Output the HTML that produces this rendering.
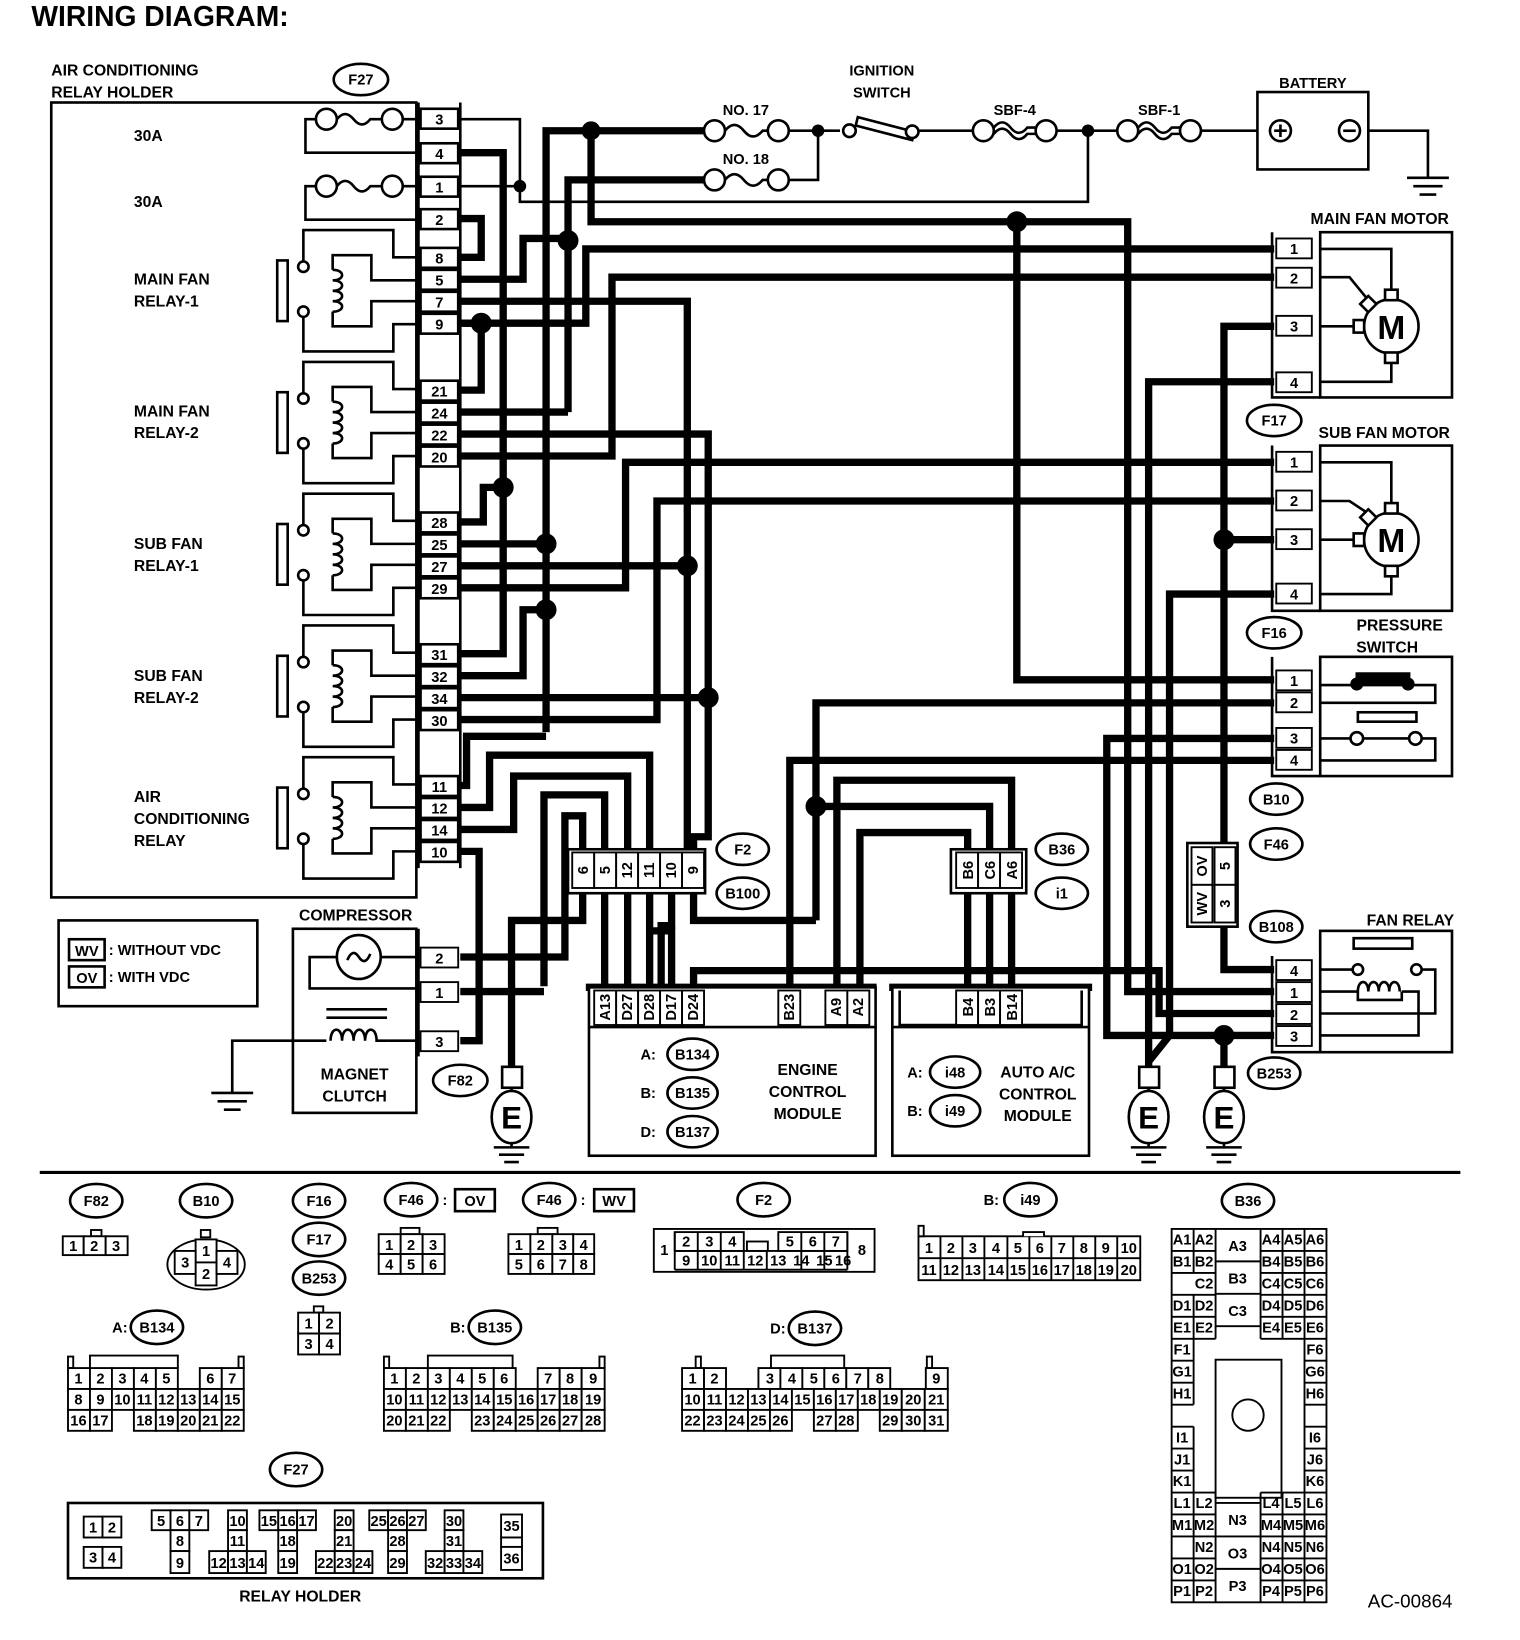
<!DOCTYPE html>
<html><head><meta charset="utf-8"><style>
html,body{margin:0;padding:0;background:#fff}
svg{display:block}
text{font-family:"Liberation Sans",sans-serif;font-weight:bold;fill:#000}
.t{fill:none;stroke:#000;stroke-width:2.5}
.w{fill:none;stroke:#000;stroke-width:7}
.b{fill:#fff;stroke:#000;stroke-width:2.5}
.c{fill:#fff;stroke:#000;stroke-width:1.8}
.l{font-size:15px}
.s{font-size:14px;font-weight:normal}
.n{font-size:14px}
</style></head><body>
<svg width="1520" height="1640" viewBox="0 0 1453 1568" preserveAspectRatio="none" xmlns="http://www.w3.org/2000/svg">
<text x="30" y="25" style="font-size:27px">WIRING DIAGRAM:</text>

<!-- ===== Relay holder ===== -->
<text x="49" y="72" class="l">AIR CONDITIONING</text>
<text x="49" y="93" class="l">RELAY HOLDER</text>
<ellipse cx="345" cy="76" rx="26" ry="15" class="b"/><text x="345" y="81" class="n" text-anchor="middle">F27</text>
<rect x="49" y="98" width="349" height="760" class="b"/>
<text x="128" y="135" class="l">30A</text>
<text x="128" y="198" class="l">30A</text>
<text x="128" y="272" class="l">MAIN FAN</text><text x="128" y="293" class="l">RELAY-1</text>
<text x="128" y="398" class="l">MAIN FAN</text><text x="128" y="419" class="l">RELAY-2</text>
<text x="128" y="525" class="l">SUB FAN</text><text x="128" y="546" class="l">RELAY-1</text>
<text x="128" y="651" class="l">SUB FAN</text><text x="128" y="672" class="l">RELAY-2</text>
<text x="128" y="767" class="l">AIR</text><text x="128" y="788" class="l">CONDITIONING</text><text x="128" y="809" class="l">RELAY</text>
<g class="t"><path d="M398,114 H385 M302,114 H292 V146 H398"/><circle cx="375" cy="114" r="10" fill="#fff"/><circle cx="312" cy="114" r="10" fill="#fff"/><path d="M322,114 q8,-10 16,0 q8,10 16,0 h11"/>
<path d="M398,178 H385 M302,178 H292 V210 H398"/><circle cx="375" cy="178" r="10" fill="#fff"/><circle cx="312" cy="178" r="10" fill="#fff"/><path d="M322,178 q8,-10 16,0 q8,10 16,0 h11"/></g>
<g id="rl" class="t" transform="translate(0,278)">
<rect x="265" y="-29" width="10" height="58" fill="#fff"/>
<path d="M290,-28 V-58 H376 V-32 H398 M290,24 V58 H376 V32 H398 M398,-10 H355 V-34 H318 V-20 M398,10 H355 V34 H318 V20"/>
<circle cx="290" cy="-23" r="5" fill="#fff"/><circle cx="290" cy="20" r="5" fill="#fff"/>
<path d="M318,-20 c12,0 12,10 0,10 c12,0 12,10 0,10 c12,0 12,10 0,10 c12,0 12,10 0,10"/>
</g>
<use href="#rl" transform="translate(0,126)"/>
<use href="#rl" transform="translate(0,252)"/>
<use href="#rl" transform="translate(0,378)"/>
<use href="#rl" transform="translate(0,504)"/>
<path class="t" d="M400,98 V830 M440,98 V830"/>
<g class="b">
<rect x="402" y="104" width="36" height="19"/><rect x="402" y="137" width="36" height="19"/><rect x="402" y="169" width="36" height="19"/><rect x="402" y="200" width="36" height="19"/>
<rect x="402" y="237" width="36" height="19"/><rect x="402" y="258" width="36" height="19"/><rect x="402" y="279" width="36" height="19"/><rect x="402" y="300" width="36" height="19"/>
<rect x="402" y="364" width="36" height="19"/><rect x="402" y="385" width="36" height="19"/><rect x="402" y="406" width="36" height="19"/><rect x="402" y="427" width="36" height="19"/>
<rect x="402" y="490" width="36" height="19"/><rect x="402" y="511" width="36" height="19"/><rect x="402" y="532" width="36" height="19"/><rect x="402" y="553" width="36" height="19"/>
<rect x="402" y="616" width="36" height="19"/><rect x="402" y="637" width="36" height="19"/><rect x="402" y="658" width="36" height="19"/><rect x="402" y="679" width="36" height="19"/>
<rect x="402" y="742" width="36" height="19"/><rect x="402" y="763" width="36" height="19"/><rect x="402" y="784" width="36" height="19"/><rect x="402" y="805" width="36" height="19"/>
</g>
<g class="n" text-anchor="middle">
<text x="420" y="119">3</text><text x="420" y="152">4</text><text x="420" y="184">1</text><text x="420" y="215">2</text>
<text x="420" y="252">8</text><text x="420" y="273">5</text><text x="420" y="294">7</text><text x="420" y="315">9</text>
<text x="420" y="379">21</text><text x="420" y="400">24</text><text x="420" y="421">22</text><text x="420" y="442">20</text>
<text x="420" y="505">28</text><text x="420" y="526">25</text><text x="420" y="547">27</text><text x="420" y="568">29</text>
<text x="420" y="631">31</text><text x="420" y="652">32</text><text x="420" y="673">34</text><text x="420" y="694">30</text>
<text x="420" y="757">11</text><text x="420" y="778">12</text><text x="420" y="799">14</text><text x="420" y="820">10</text>
</g>

<!-- ===== top power ===== -->
<path class="t" d="M440,114 H497 V193 H1040 V125 M440,178 H497"/>
<path class="w" d="M522,700 V125 H680"/>
<path class="w" d="M543,394 V172 H673"/>
<path class="w" d="M565,125 V212 H1078 V948 H1218"/>
<g class="t">
<circle cx="683" cy="125" r="10" fill="#fff"/><circle cx="744" cy="125" r="10" fill="#fff"/><path d="M693,125 q9,-11 18,0 q9,11 18,0 h5 M754,125 H803"/>
<circle cx="683" cy="172" r="10" fill="#fff"/><circle cx="744" cy="172" r="10" fill="#fff"/><path d="M693,172 q9,-11 18,0 q9,11 18,0 h5 M754,172 H782 V125"/>
<circle cx="812" cy="125" r="6" fill="#fff"/>
<path d="M820,112 l54,14 l-2,8 l-54,-14 z" fill="#fff"/><circle cx="872" cy="126" r="6" fill="#fff"/>
<path d="M878,125 H930"/>
<circle cx="940" cy="125" r="10" fill="#fff"/><circle cx="1000" cy="125" r="10" fill="#fff"/><path d="M950,122 q8,-10 16,0 q8,10 16,0 h8 M950,128 q8,-10 16,0 q8,10 16,0 h8 M1010,125 H1068"/>
<circle cx="1078" cy="125" r="10" fill="#fff"/><circle cx="1138" cy="125" r="10" fill="#fff"/><path d="M1088,122 q8,-10 16,0 q8,10 16,0 h8 M1088,128 q8,-10 16,0 q8,10 16,0 h8 M1148,125 H1202"/>
<rect x="1202" y="88" width="106" height="74" fill="#fff"/>
<circle cx="1224" cy="125" r="10"/><path d="M1218,125 h12 M1224,119 v12"/>
<circle cx="1290" cy="125" r="10"/><path d="M1284,125 h12"/>
<path d="M1308,125 H1365 V170 M1345,170 h40 M1351,178 h28 M1357,186 h16"/>
</g>
<text x="713" y="110" class="n" text-anchor="middle">NO. 17</text>
<text x="713" y="157" class="n" text-anchor="middle">NO. 18</text>
<text x="843" y="72" class="n" text-anchor="middle">IGNITION</text><text x="843" y="93" class="n" text-anchor="middle">SWITCH</text>
<text x="970" y="110" class="n" text-anchor="middle">SBF-4</text>
<text x="1108" y="110" class="n" text-anchor="middle">SBF-1</text>
<text x="1255" y="84" class="n" text-anchor="middle">BATTERY</text>

<!-- ===== relay wiring ===== -->
<g>
<path class="w" d="M440,146 H481 V625 H440"/>
<path class="w" d="M440,209 H460 V246 H440"/>
<path class="w" d="M440,309 H460 V373 H440"/>
<path class="w" d="M440,499 H462 V466 H481"/>
<path class="w" d="M440,267 H500 V228 H543"/>
<path class="w" d="M440,394 H543"/>
<path class="w" d="M440,309 H560 V238 H1218"/>
<path class="w" d="M440,436 H585 V265 H1218"/>
<path class="w" d="M440,288 H657 V815"/>
<path class="w" d="M440,415 H677 V800 H663 V815"/>
<path class="w" d="M440,520 H522"/>
<path class="w" d="M440,541 H657"/>
<path class="w" d="M440,562 H598 V442 H1218"/>
<path class="w" d="M440,646 H500 V583 H522"/>
<path class="w" d="M440,667 H677"/>
<path class="w" d="M440,688 H628 V479 H1218"/>
<path class="w" d="M440,751 H446 V704 H522"/>
<path class="w" d="M440,772 H468 V722 H621 V815"/>
<path class="w" d="M440,793 H491 V742 H600 V815"/>
<path class="w" d="M440,814 H458 V995 H440"/>
<path class="w" d="M520,943 V760 H578 V815"/>
<path class="w" d="M440,915 H540 V780 H557 V815"/>
<path class="w" d="M440,948 H520"/>
<path class="w" d="M557,852 V880 H489 V1020"/>
</g>
<rect x="543" y="812" width="131" height="42" class="b"/>
<g class="c"><rect x="547" y="815" width="21" height="34"/><rect x="568" y="815" width="21" height="34"/><rect x="589" y="815" width="21" height="34"/><rect x="610" y="815" width="21" height="34"/><rect x="631" y="815" width="21" height="34"/><rect x="652" y="815" width="21" height="34"/></g>
<g class="n" text-anchor="middle">
<text transform="translate(562,832) rotate(-90)">6</text><text transform="translate(583,832) rotate(-90)">5</text><text transform="translate(604,832) rotate(-90)">12</text><text transform="translate(625,832) rotate(-90)">11</text><text transform="translate(646,832) rotate(-90)">10</text><text transform="translate(667,832) rotate(-90)">9</text>
</g>
<ellipse cx="710" cy="812" rx="25" ry="15" class="b"/><text x="710" y="817" class="n" text-anchor="middle">F2</text>
<ellipse cx="710" cy="854" rx="25" ry="15" class="b"/><text x="710" y="859" class="n" text-anchor="middle">B100</text>
<path class="w" d="M578,854 V944 M600,854 V944 M621,854 V890 H621 V944 M642,854 V885 H632 V944 M663,854 V880 H780"/>
<path class="w" d="M663,944 V928 H1108 V969 H1218"/>
<path class="w" d="M642,944 V900 M621,890 H642 V900"/>
<path class="w" d="M780,880 V672 H1218"/>
<path class="w" d="M780,771 H946 V815"/>
<path class="w" d="M800,944 V746 H967 V815"/>
<path class="w" d="M822,944 V796 H925 V815"/>
<path class="w" d="M755,944 V727 H1218"/>
<path class="w" d="M972,212 V650 H1218"/>
<path class="w" d="M1218,706 H1058 V990 H1218"/>
<path class="w" d="M1218,365 H1098 V1020"/>
<path class="w" d="M1218,568 H1118 V990 L1098,1015"/>
<path class="w" d="M1218,312 H1170 V806 M1170,885 V927 H1218"/>
<path class="w" d="M1218,516 H1170"/>
<path class="w" d="M1170,990 V1020"/>
<path class="w" d="M925,853 V944 M946,853 V944 M967,853 V944"/>
<rect x="909" y="812" width="72" height="42" class="b"/>
<g class="c"><rect x="914" y="815" width="21" height="34"/><rect x="935" y="815" width="21" height="34"/><rect x="956" y="815" width="21" height="34"/></g>
<g class="n" text-anchor="middle"><text transform="translate(930,832) rotate(-90)">B6</text><text transform="translate(951,832) rotate(-90)">C6</text><text transform="translate(972,832) rotate(-90)">A6</text></g>
<ellipse cx="1015" cy="812" rx="25" ry="15" class="b"/><text x="1015" y="817" class="n" text-anchor="middle">B36</text>
<ellipse cx="1015" cy="854" rx="25" ry="15" class="b"/><text x="1015" y="859" class="n" text-anchor="middle">i1</text>

<g fill="#000">
<circle cx="565" cy="125" r="9"/><circle cx="782" cy="125" r="6"/><circle cx="1040" cy="125" r="6"/><circle cx="497" cy="178" r="6"/>
<circle cx="543" cy="230" r="10"/><circle cx="460" cy="309" r="10"/><circle cx="972" cy="212" r="10"/>
<circle cx="481" cy="466" r="10"/><circle cx="522" cy="520" r="10"/><circle cx="522" cy="583" r="10"/><circle cx="657" cy="541" r="10"/><circle cx="677" cy="667" r="10"/>
<circle cx="780" cy="771" r="10"/><circle cx="1170" cy="516" r="10"/><circle cx="1170" cy="990" r="10"/>
</g>

<!-- Main fan motor -->
<text x="1385" y="214" class="l" text-anchor="end">MAIN FAN MOTOR</text>
<rect x="1262" y="222" width="126" height="158" class="b"/>
<path class="t" d="M1216,222 V380 H1262"/>
<g class="c"><rect x="1220" y="228" width="34" height="19"/><rect x="1220" y="256" width="34" height="19"/><rect x="1220" y="302" width="34" height="19"/><rect x="1220" y="356" width="34" height="19"/></g>
<g class="n" text-anchor="middle"><text x="1237" y="243">1</text><text x="1237" y="271">2</text><text x="1237" y="317">3</text><text x="1237" y="371">4</text></g>
<g class="t">
<path d="M1262,238 H1330 V280 M1262,265 H1290 L1308,287 M1262,312 H1300 M1262,365 H1330 V345"/>
<circle cx="1330" cy="312" r="26" fill="#fff"/>
<rect x="1324" y="277" width="12" height="10" fill="#fff"/><rect x="1324" y="337" width="12" height="10" fill="#fff"/><rect x="1294" y="306" width="10" height="12" fill="#fff"/>
<rect x="1303" y="285" width="11" height="11" fill="#fff" transform="rotate(45 1308 290)"/>
</g>
<text x="1330" y="324" style="font-size:32px" text-anchor="middle">M</text>
<ellipse cx="1218" cy="402" rx="26" ry="15" class="b"/><text x="1218" y="407" class="n" text-anchor="middle">F17</text>
<!-- Sub fan -->
<text x="1386" y="419" class="l" text-anchor="end">SUB FAN MOTOR</text>
<rect x="1262" y="426" width="126" height="158" class="b"/>
<path class="t" d="M1216,426 V584 H1262"/>
<g class="c"><rect x="1220" y="432" width="34" height="19"/><rect x="1220" y="469" width="34" height="19"/><rect x="1220" y="506" width="34" height="19"/><rect x="1220" y="558" width="34" height="19"/></g>
<g class="n" text-anchor="middle"><text x="1237" y="447">1</text><text x="1237" y="484">2</text><text x="1237" y="521">3</text><text x="1237" y="573">4</text></g>
<g class="t">
<path d="M1262,442 H1330 V484 M1262,479 H1290 L1308,491 M1262,516 H1300 M1262,568 H1330 V549"/>
<circle cx="1330" cy="516" r="26" fill="#fff"/>
<rect x="1324" y="481" width="12" height="10" fill="#fff"/><rect x="1324" y="541" width="12" height="10" fill="#fff"/><rect x="1294" y="510" width="10" height="12" fill="#fff"/>
<rect x="1303" y="489" width="11" height="11" fill="#fff" transform="rotate(45 1308 494)"/>
</g>
<text x="1330" y="528" style="font-size:32px" text-anchor="middle">M</text>
<ellipse cx="1218" cy="605" rx="26" ry="15" class="b"/><text x="1218" y="610" class="n" text-anchor="middle">F16</text>
<!-- Pressure switch -->
<text x="1338" y="603" class="l" text-anchor="middle">PRESSURE</text><text x="1326" y="624" class="l" text-anchor="middle">SWITCH</text>
<rect x="1262" y="628" width="126" height="114" class="b"/>
<path class="t" d="M1216,628 V742 H1262"/>
<g class="c"><rect x="1220" y="641" width="34" height="19"/><rect x="1220" y="662" width="34" height="19"/><rect x="1220" y="696" width="34" height="19"/><rect x="1220" y="717" width="34" height="19"/></g>
<g class="n" text-anchor="middle"><text x="1237" y="656">1</text><text x="1237" y="677">2</text><text x="1237" y="711">3</text><text x="1237" y="732">4</text></g>
<g class="t"><path d="M1262,655 H1372 V672 H1262 M1262,706 H1290 M1304,706 H1346 M1360,706 H1372 V727 H1262"/>
<rect x="1297" y="644" width="50" height="9" fill="#000"/><circle cx="1297" cy="654" r="5" fill="#000"/><circle cx="1346" cy="654" r="5" fill="#000"/>
<rect x="1298" y="681" width="56" height="9" fill="#fff"/><circle cx="1297" cy="706" r="6" fill="#fff"/><circle cx="1353" cy="706" r="6" fill="#fff"/></g>
<ellipse cx="1220" cy="764" rx="25" ry="15" class="b"/><text x="1220" y="769" class="n" text-anchor="middle">B10</text>
<ellipse cx="1220" cy="807" rx="25" ry="15" class="b"/><text x="1220" y="812" class="n" text-anchor="middle">F46</text>
<rect x="1135" y="806" width="48" height="80" class="b"/>
<g class="c"><rect x="1139" y="810" width="20" height="36"/><rect x="1161" y="810" width="20" height="36"/><rect x="1139" y="846" width="20" height="36"/><rect x="1161" y="846" width="20" height="36"/></g>
<g class="n" text-anchor="middle"><text transform="translate(1154,828) rotate(-90)">OV</text><text transform="translate(1176,828) rotate(-90)">5</text><text transform="translate(1154,864) rotate(-90)">WV</text><text transform="translate(1176,864) rotate(-90)">3</text></g>
<ellipse cx="1220" cy="886" rx="25" ry="15" class="b"/><text x="1220" y="891" class="n" text-anchor="middle">B108</text>
<!-- Fan relay -->
<text x="1390" y="885" class="l" text-anchor="end">FAN RELAY</text>
<rect x="1262" y="890" width="126" height="116" class="b"/>
<path class="t" d="M1216,914 V1006 H1262"/>
<g class="c"><rect x="1220" y="918" width="34" height="19"/><rect x="1220" y="939" width="34" height="19"/><rect x="1220" y="960" width="34" height="19"/><rect x="1220" y="981" width="34" height="19"/></g>
<g class="n" text-anchor="middle"><text x="1237" y="933">4</text><text x="1237" y="954">1</text><text x="1237" y="975">2</text><text x="1237" y="996">3</text></g>
<g class="t"><path d="M1262,927 H1293 M1358,927 H1372 V969 H1262 M1262,948 H1298 M1340,948 H1356 V990 H1262"/>
<rect x="1294" y="897" width="56" height="10" fill="#fff"/><circle cx="1298" cy="927" r="5" fill="#fff"/><circle cx="1354" cy="927" r="5" fill="#fff"/>
<path d="M1298,948 c0,-12 10,-12 10,0 c0,-12 10,-12 10,0 c0,-12 10,-12 10,0 c0,-12 10,-12 10,0"/><path d="M1298,948 v8 h42 v-8"/></g>
<ellipse cx="1218" cy="1026" rx="25" ry="15" class="b"/><text x="1218" y="1031" class="n" text-anchor="middle">B253</text>

<!-- Compressor -->
<text x="340" y="880" class="l" text-anchor="middle">COMPRESSOR</text>
<rect x="280" y="888" width="118" height="176" class="b"/>
<path class="t" d="M400,888 V1010"/>
<g class="c"><rect x="402" y="906" width="36" height="19"/><rect x="402" y="939" width="36" height="19"/><rect x="402" y="986" width="36" height="19"/></g>
<g class="n" text-anchor="middle"><text x="420" y="921">2</text><text x="420" y="954">1</text><text x="420" y="1001">3</text></g>
<g class="t"><circle cx="343" cy="915" r="21" fill="#fff"/><path d="M332,918 q5,-12 11,-3 q6,9 11,-3"/>
<path d="M364,915 H400 M322,915 H296 V945 H400 M312,965 H370 M312,973 H370 M398,995 H370 M312,995 H222 V1045 M202,1045 h40 M208,1053 h28 M214,1061 h16"/>
<path d="M316,995 c0,-14 11,-14 11,0 c0,-14 11,-14 11,0 c0,-14 11,-14 11,0 c0,-14 11,-14 11,0 H370"/></g>
<text x="339" y="1032" class="l" text-anchor="middle">MAGNET</text><text x="339" y="1053" class="l" text-anchor="middle">CLUTCH</text>
<ellipse cx="440" cy="1033" rx="26" ry="15" class="b"/><text x="440" y="1038" class="n" text-anchor="middle">F82</text>
<rect x="56" y="880" width="190" height="82" class="b"/>
<rect x="66" y="898" width="34" height="20" class="b"/><text x="83" y="914" class="n" text-anchor="middle">WV</text><text x="104" y="913" class="n">: WITHOUT VDC</text>
<rect x="66" y="924" width="34" height="20" class="b"/><text x="83" y="940" class="n" text-anchor="middle">OV</text><text x="104" y="939" class="n">: WITH VDC</text>

<g id="gE" class="t"><rect x="480" y="1020" width="19" height="20" fill="#fff"/><path d="M489,1040 V1044"/><ellipse cx="489" cy="1068" rx="19" ry="25" fill="#fff"/><path d="M489,1093 V1097 M472,1097 h34 M477,1104 h24 M482,1111 h14"/></g>
<text x="489" y="1079" style="font-size:30px" text-anchor="middle">E</text>
<use href="#gE" transform="translate(609,0)"/><text x="1098" y="1079" style="font-size:30px" text-anchor="middle">E</text>
<use href="#gE" transform="translate(681,0)"/><text x="1170" y="1079" style="font-size:30px" text-anchor="middle">E</text>

<!-- ECM -->
<path class="w" d="M560,944 H838"/>
<rect x="563" y="944" width="274" height="161" class="b"/>
<path class="t" d="M563,982 H837"/>
<g class="c"><rect x="568" y="947" width="21" height="33"/><rect x="589" y="947" width="21" height="33"/><rect x="610" y="947" width="21" height="33"/><rect x="631" y="947" width="21" height="33"/><rect x="652" y="947" width="21" height="33"/><rect x="744" y="947" width="21" height="33"/><rect x="789" y="947" width="21" height="33"/><rect x="810" y="947" width="21" height="33"/></g>
<g class="n" text-anchor="middle">
<text transform="translate(583,963) rotate(-90)">A13</text><text transform="translate(604,963) rotate(-90)">D27</text><text transform="translate(625,963) rotate(-90)">D28</text><text transform="translate(646,963) rotate(-90)">D17</text><text transform="translate(667,963) rotate(-90)">D24</text><text transform="translate(759,963) rotate(-90)">B23</text><text transform="translate(804,963) rotate(-90)">A9</text><text transform="translate(825,963) rotate(-90)">A2</text>
</g>
<text x="627" y="1013" class="n" text-anchor="end">A:</text><ellipse cx="662" cy="1008" rx="24" ry="15" class="b"/><text x="662" y="1013" class="n" text-anchor="middle">B134</text>
<text x="627" y="1050" class="n" text-anchor="end">B:</text><ellipse cx="662" cy="1045" rx="24" ry="15" class="b"/><text x="662" y="1050" class="n" text-anchor="middle">B135</text>
<text x="627" y="1087" class="n" text-anchor="end">D:</text><ellipse cx="662" cy="1082" rx="24" ry="15" class="b"/><text x="662" y="1087" class="n" text-anchor="middle">B137</text>
<text x="772" y="1028" class="l" text-anchor="middle">ENGINE</text><text x="772" y="1049" class="l" text-anchor="middle">CONTROL</text><text x="772" y="1070" class="l" text-anchor="middle">MODULE</text>
<path class="w" d="M850,944 H1044"/>
<rect x="853" y="944" width="188" height="161" class="b"/>
<path class="t" d="M853,982 H1041 M860,947 V980 H1034 V947"/>
<g class="c"><rect x="914" y="947" width="21" height="33"/><rect x="935" y="947" width="21" height="33"/><rect x="956" y="947" width="21" height="33"/></g>
<g class="n" text-anchor="middle"><text transform="translate(930,963) rotate(-90)">B4</text><text transform="translate(951,963) rotate(-90)">B3</text><text transform="translate(972,963) rotate(-90)">B14</text></g>
<text x="882" y="1030" class="n" text-anchor="end">A:</text><ellipse cx="913" cy="1025" rx="24" ry="15" class="b"/><text x="913" y="1030" class="n" text-anchor="middle">i48</text>
<text x="882" y="1067" class="n" text-anchor="end">B:</text><ellipse cx="913" cy="1062" rx="24" ry="15" class="b"/><text x="913" y="1067" class="n" text-anchor="middle">i49</text>
<text x="992" y="1030" class="l" text-anchor="middle">AUTO A/C</text><text x="992" y="1051" class="l" text-anchor="middle">CONTROL</text><text x="992" y="1072" class="l" text-anchor="middle">MODULE</text>

<path d="M38,1121 H1396" stroke="#000" stroke-width="3"/>

<!-- connector views -->
<g class="b">
<ellipse cx="92" cy="1148" rx="25" ry="16"/><ellipse cx="197" cy="1148" rx="25" ry="16"/>
<ellipse cx="305" cy="1148" rx="25" ry="16"/><ellipse cx="305" cy="1185" rx="25" ry="16"/><ellipse cx="305" cy="1222" rx="25" ry="16"/>
<ellipse cx="393" cy="1147" rx="25" ry="16"/><ellipse cx="525" cy="1147" rx="25" ry="16"/><ellipse cx="730" cy="1147" rx="25" ry="16"/><ellipse cx="985" cy="1147" rx="25" ry="16"/><ellipse cx="1193" cy="1148" rx="25" ry="16"/>
<ellipse cx="150" cy="1269" rx="25" ry="16"/><ellipse cx="473" cy="1269" rx="25" ry="16"/><ellipse cx="779" cy="1270" rx="25" ry="16"/><ellipse cx="283" cy="1405" rx="25" ry="16"/>
</g>
<g class="n" text-anchor="middle">
<text x="92" y="1153">F82</text><text x="197" y="1153">B10</text><text x="305" y="1153">F16</text><text x="305" y="1190">F17</text><text x="305" y="1227">B253</text>
<text x="393" y="1152">F46</text><text x="525" y="1152">F46</text><text x="730" y="1152">F2</text><text x="985" y="1152">i49</text><text x="1193" y="1153">B36</text>
<text x="150" y="1274">B134</text><text x="473" y="1274">B135</text><text x="779" y="1275">B137</text><text x="283" y="1410">F27</text>
</g>
<text x="423" y="1152" class="n">:</text><rect x="435" y="1137" width="38" height="21" class="b"/><text x="454" y="1153" class="n" text-anchor="middle">OV</text>
<text x="555" y="1152" class="n">:</text><rect x="568" y="1137" width="38" height="21" class="b"/><text x="587" y="1153" class="n" text-anchor="middle">WV</text>
<text x="955" y="1152" class="n" text-anchor="end">B:</text>
<text x="122" y="1274" class="n" text-anchor="end">A:</text><text x="445" y="1274" class="n" text-anchor="end">B:</text><text x="751" y="1275" class="n" text-anchor="end">D:</text>

<g class="c">
<rect x="87" y="1176" width="10" height="6"/><rect x="60" y="1182" width="20" height="18"/><rect x="80" y="1182" width="21" height="18"/><rect x="101" y="1182" width="21" height="18"/>
<ellipse cx="197" cy="1209" rx="37" ry="24"/><rect x="192" y="1176" width="9" height="7"/><rect x="187" y="1185" width="20" height="22"/><rect x="187" y="1207" width="20" height="22"/><rect x="167" y="1196" width="20" height="22"/><rect x="207" y="1196" width="20" height="22"/>
<rect x="300" y="1249" width="9" height="6"/><rect x="285" y="1255" width="20" height="20"/><rect x="305" y="1255" width="20" height="20"/><rect x="285" y="1275" width="20" height="20"/><rect x="305" y="1275" width="20" height="20"/>
<rect x="383" y="1174" width="18" height="6"/><rect x="362" y="1180" width="21" height="19"/><rect x="383" y="1180" width="21" height="19"/><rect x="404" y="1180" width="21" height="19"/><rect x="362" y="1199" width="21" height="19"/><rect x="383" y="1199" width="21" height="19"/><rect x="404" y="1199" width="21" height="19"/>
<rect x="514" y="1174" width="19" height="6"/><rect x="486" y="1180" width="21" height="19"/><rect x="507" y="1180" width="21" height="19"/><rect x="528" y="1180" width="20" height="19"/><rect x="548" y="1180" width="20" height="19"/><rect x="486" y="1199" width="21" height="19"/><rect x="507" y="1199" width="21" height="19"/><rect x="528" y="1199" width="20" height="19"/><rect x="548" y="1199" width="20" height="19"/>
<rect x="625" y="1175" width="211" height="41"/><rect x="645" y="1178" width="66" height="18"/><rect x="744" y="1178" width="66" height="18"/><rect x="714" y="1187" width="20" height="9"/>
<path d="M645,1178 V1214 M667,1178 V1214 M689,1178 V1214 M711,1196 V1214 M733,1196 V1214 M766,1178 V1214 M788,1178 V1214 M810,1178 V1214 M645,1196 H810 M645,1214 H810"/>
<rect x="878" y="1182" width="212" height="42"/><rect x="878" y="1172" width="5" height="10"/><path d="M878,1203 H1090 M899,1182 V1224 M920,1182 V1224 M941,1182 V1224 M963,1182 V1224 M984,1182 V1224 M1005,1182 V1224 M1026,1182 V1224 M1047,1182 V1224 M1068,1182 V1224 M978,1182 V1178 H998 V1182"/>
</g>
<g class="s" text-anchor="middle">
<text x="70" y="1196">1</text><text x="90" y="1196">2</text><text x="111" y="1196">3</text>
<text x="197" y="1201">1</text><text x="197" y="1223">2</text><text x="177" y="1212">3</text><text x="217" y="1212">4</text>
<text x="295" y="1270">1</text><text x="315" y="1270">2</text><text x="295" y="1290">3</text><text x="315" y="1290">4</text>
<text x="372" y="1195">1</text><text x="393" y="1195">2</text><text x="414" y="1195">3</text><text x="372" y="1214">4</text><text x="393" y="1214">5</text><text x="414" y="1214">6</text>
<text x="496" y="1195">1</text><text x="517" y="1195">2</text><text x="538" y="1195">3</text><text x="558" y="1195">4</text><text x="496" y="1214">5</text><text x="517" y="1214">6</text><text x="538" y="1214">7</text><text x="558" y="1214">8</text>
<text x="635" y="1200">1</text><text x="656" y="1192">2</text><text x="678" y="1192">3</text><text x="700" y="1192">4</text><text x="755" y="1192">5</text><text x="777" y="1192">6</text><text x="799" y="1192">7</text><text x="824" y="1200">8</text>
<text x="656" y="1210">9</text><text x="678" y="1210">10</text><text x="700" y="1210">11</text><text x="722" y="1210">12</text><text x="744" y="1210">13</text><text x="766" y="1210">14</text><text x="788" y="1210">15</text><text x="806" y="1210">16</text>
<text x="888" y="1198">1</text><text x="909" y="1198">2</text><text x="930" y="1198">3</text><text x="952" y="1198">4</text><text x="973" y="1198">5</text><text x="994" y="1198">6</text><text x="1015" y="1198">7</text><text x="1036" y="1198">8</text><text x="1057" y="1198">9</text><text x="1079" y="1198">10</text>
<text x="888" y="1219">11</text><text x="909" y="1219">12</text><text x="930" y="1219">13</text><text x="952" y="1219">14</text><text x="973" y="1219">15</text><text x="994" y="1219">16</text><text x="1015" y="1219">17</text><text x="1036" y="1219">18</text><text x="1057" y="1219">19</text><text x="1079" y="1219">20</text>
</g>

<g class="c">
<rect x="65" y="1297" width="5" height="11"/><rect x="228" y="1297" width="5" height="11"/><path d="M86,1308 V1296 H170 V1308"/>
<rect x="65" y="1308" width="21" height="20"/><rect x="86" y="1308" width="21" height="20"/><rect x="107" y="1308" width="21" height="20"/><rect x="128" y="1308" width="21" height="20"/><rect x="149" y="1308" width="21" height="20"/><rect x="191" y="1308" width="21" height="20"/><rect x="212" y="1308" width="21" height="20"/>
<rect x="65" y="1328" width="21" height="20"/><rect x="86" y="1328" width="21" height="20"/><rect x="107" y="1328" width="21" height="20"/><rect x="128" y="1328" width="21" height="20"/><rect x="149" y="1328" width="21" height="20"/><rect x="170" y="1328" width="21" height="20"/><rect x="191" y="1328" width="21" height="20"/><rect x="212" y="1328" width="21" height="20"/>
<rect x="65" y="1348" width="21" height="20"/><rect x="86" y="1348" width="21" height="20"/><rect x="128" y="1348" width="21" height="20"/><rect x="149" y="1348" width="21" height="20"/><rect x="170" y="1348" width="21" height="20"/><rect x="191" y="1348" width="21" height="20"/><rect x="212" y="1348" width="21" height="20"/>
</g>
<g class="s" text-anchor="middle">
<text x="75" y="1323">1</text><text x="96" y="1323">2</text><text x="117" y="1323">3</text><text x="138" y="1323">4</text><text x="159" y="1323">5</text><text x="201" y="1323">6</text><text x="222" y="1323">7</text>
<text x="75" y="1343">8</text><text x="96" y="1343">9</text><text x="117" y="1343">10</text><text x="138" y="1343">11</text><text x="159" y="1343">12</text><text x="180" y="1343">13</text><text x="201" y="1343">14</text><text x="222" y="1343">15</text>
<text x="75" y="1363">16</text><text x="96" y="1363">17</text><text x="138" y="1363">18</text><text x="159" y="1363">19</text><text x="180" y="1363">20</text><text x="201" y="1363">21</text><text x="222" y="1363">22</text>
</g>
<g class="c">
<rect x="367" y="1297" width="5" height="11"/><rect x="573" y="1297" width="5" height="11"/><path d="M409,1308 V1296 H490 V1308"/>
<rect x="367" y="1308" width="21" height="20"/><rect x="388" y="1308" width="21" height="20"/><rect x="409" y="1308" width="21" height="20"/><rect x="430" y="1308" width="21" height="20"/><rect x="451" y="1308" width="21" height="20"/><rect x="472" y="1308" width="21" height="20"/><rect x="514" y="1308" width="21" height="20"/><rect x="535" y="1308" width="21" height="20"/><rect x="556" y="1308" width="22" height="20"/>
<rect x="367" y="1328" width="21" height="20"/><rect x="388" y="1328" width="21" height="20"/><rect x="409" y="1328" width="21" height="20"/><rect x="430" y="1328" width="21" height="20"/><rect x="451" y="1328" width="21" height="20"/><rect x="472" y="1328" width="21" height="20"/><rect x="493" y="1328" width="21" height="20"/><rect x="514" y="1328" width="21" height="20"/><rect x="535" y="1328" width="21" height="20"/><rect x="556" y="1328" width="22" height="20"/>
<rect x="367" y="1348" width="21" height="20"/><rect x="388" y="1348" width="21" height="20"/><rect x="409" y="1348" width="21" height="20"/><rect x="451" y="1348" width="21" height="20"/><rect x="472" y="1348" width="21" height="20"/><rect x="493" y="1348" width="21" height="20"/><rect x="514" y="1348" width="21" height="20"/><rect x="535" y="1348" width="21" height="20"/><rect x="556" y="1348" width="22" height="20"/>
</g>
<g class="s" text-anchor="middle">
<text x="377" y="1323">1</text><text x="398" y="1323">2</text><text x="419" y="1323">3</text><text x="440" y="1323">4</text><text x="461" y="1323">5</text><text x="482" y="1323">6</text><text x="524" y="1323">7</text><text x="545" y="1323">8</text><text x="567" y="1323">9</text>
<text x="377" y="1343">10</text><text x="398" y="1343">11</text><text x="419" y="1343">12</text><text x="440" y="1343">13</text><text x="461" y="1343">14</text><text x="482" y="1343">15</text><text x="503" y="1343">16</text><text x="524" y="1343">17</text><text x="545" y="1343">18</text><text x="567" y="1343">19</text>
<text x="377" y="1363">20</text><text x="398" y="1363">21</text><text x="419" y="1363">22</text><text x="461" y="1363">23</text><text x="482" y="1363">24</text><text x="503" y="1363">25</text><text x="524" y="1363">26</text><text x="545" y="1363">27</text><text x="567" y="1363">28</text>
</g>
<g class="c">
<rect x="665" y="1297" width="5" height="11"/><rect x="886" y="1297" width="5" height="11"/><path d="M737,1308 V1296 H807 V1308"/>
<rect x="652" y="1308" width="21" height="20"/><rect x="673" y="1308" width="21" height="20"/><rect x="725" y="1308" width="21" height="20"/><rect x="746" y="1308" width="21" height="20"/><rect x="767" y="1308" width="21" height="20"/><rect x="788" y="1308" width="21" height="20"/><rect x="809" y="1308" width="21" height="20"/><rect x="830" y="1308" width="21" height="20"/><rect x="885" y="1308" width="21" height="20"/>
<rect x="652" y="1328" width="21" height="20"/><rect x="673" y="1328" width="21" height="20"/><rect x="694" y="1328" width="21" height="20"/><rect x="715" y="1328" width="21" height="20"/><rect x="736" y="1328" width="21" height="20"/><rect x="757" y="1328" width="21" height="20"/><rect x="778" y="1328" width="21" height="20"/><rect x="799" y="1328" width="21" height="20"/><rect x="820" y="1328" width="21" height="20"/><rect x="841" y="1328" width="21" height="20"/><rect x="862" y="1328" width="22" height="20"/><rect x="884" y="1328" width="22" height="20"/>
<rect x="652" y="1348" width="21" height="20"/><rect x="673" y="1348" width="21" height="20"/><rect x="694" y="1348" width="21" height="20"/><rect x="715" y="1348" width="21" height="20"/><rect x="736" y="1348" width="21" height="20"/><rect x="778" y="1348" width="21" height="20"/><rect x="799" y="1348" width="21" height="20"/><rect x="841" y="1348" width="21" height="20"/><rect x="862" y="1348" width="22" height="20"/><rect x="884" y="1348" width="22" height="20"/>
</g>
<g class="s" text-anchor="middle">
<text x="662" y="1323">1</text><text x="683" y="1323">2</text><text x="736" y="1323">3</text><text x="757" y="1323">4</text><text x="778" y="1323">5</text><text x="799" y="1323">6</text><text x="820" y="1323">7</text><text x="841" y="1323">8</text><text x="895" y="1323">9</text>
<text x="662" y="1343">10</text><text x="683" y="1343">11</text><text x="704" y="1343">12</text><text x="725" y="1343">13</text><text x="746" y="1343">14</text><text x="767" y="1343">15</text><text x="788" y="1343">16</text><text x="809" y="1343">17</text><text x="830" y="1343">18</text><text x="851" y="1343">19</text><text x="873" y="1343">20</text><text x="895" y="1343">21</text>
<text x="662" y="1363">22</text><text x="683" y="1363">23</text><text x="704" y="1363">24</text><text x="725" y="1363">25</text><text x="746" y="1363">26</text><text x="788" y="1363">27</text><text x="809" y="1363">28</text><text x="851" y="1363">29</text><text x="873" y="1363">30</text><text x="895" y="1363">31</text>
</g>

<rect x="65" y="1437" width="454" height="72" class="b"/>
<g class="c">
<rect x="80" y="1450" width="18" height="20"/><rect x="98" y="1450" width="18" height="20"/><rect x="80" y="1479" width="18" height="20"/><rect x="98" y="1479" width="18" height="20"/>
<rect x="145" y="1444" width="18" height="19"/><rect x="163" y="1444" width="18" height="19"/><rect x="181" y="1444" width="18" height="19"/><rect x="163" y="1463" width="18" height="20"/><rect x="163" y="1483" width="18" height="21"/>
<rect x="218" y="1444" width="18" height="19"/><rect x="218" y="1463" width="18" height="20"/><rect x="200" y="1483" width="18" height="21"/><rect x="218" y="1483" width="18" height="21"/><rect x="236" y="1483" width="18" height="21"/>
<rect x="248" y="1444" width="18" height="19"/><rect x="266" y="1444" width="18" height="19"/><rect x="284" y="1444" width="18" height="19"/><rect x="266" y="1463" width="18" height="20"/><rect x="266" y="1483" width="18" height="21"/>
<rect x="320" y="1444" width="18" height="19"/><rect x="320" y="1463" width="18" height="20"/><rect x="302" y="1483" width="18" height="21"/><rect x="320" y="1483" width="18" height="21"/><rect x="338" y="1483" width="18" height="21"/>
<rect x="353" y="1444" width="18" height="19"/><rect x="371" y="1444" width="18" height="19"/><rect x="389" y="1444" width="18" height="19"/><rect x="371" y="1463" width="18" height="20"/><rect x="371" y="1483" width="18" height="21"/>
<rect x="425" y="1444" width="18" height="19"/><rect x="425" y="1463" width="18" height="20"/><rect x="407" y="1483" width="18" height="21"/><rect x="425" y="1483" width="18" height="21"/><rect x="443" y="1483" width="18" height="21"/>
<rect x="479" y="1448" width="20" height="22"/><rect x="479" y="1470" width="20" height="9"/><rect x="479" y="1479" width="20" height="22"/>
</g>
<g class="s" text-anchor="middle">
<text x="89" y="1465">1</text><text x="107" y="1465">2</text><text x="89" y="1494">3</text><text x="107" y="1494">4</text>
<text x="154" y="1459">5</text><text x="172" y="1459">6</text><text x="190" y="1459">7</text><text x="172" y="1478">8</text><text x="172" y="1499">9</text>
<text x="227" y="1459">10</text><text x="227" y="1478">11</text><text x="209" y="1499">12</text><text x="227" y="1499">13</text><text x="245" y="1499">14</text>
<text x="257" y="1459">15</text><text x="275" y="1459">16</text><text x="293" y="1459">17</text><text x="275" y="1478">18</text><text x="275" y="1499">19</text>
<text x="329" y="1459">20</text><text x="329" y="1478">21</text><text x="311" y="1499">22</text><text x="329" y="1499">23</text><text x="347" y="1499">24</text>
<text x="362" y="1459">25</text><text x="380" y="1459">26</text><text x="398" y="1459">27</text><text x="380" y="1478">28</text><text x="380" y="1499">29</text>
<text x="434" y="1459">30</text><text x="434" y="1478">31</text><text x="416" y="1499">32</text><text x="434" y="1499">33</text><text x="452" y="1499">34</text>
<text x="489" y="1464">35</text><text x="489" y="1495">36</text>
</g>
<text x="287" y="1531" class="l" text-anchor="middle">RELAY HOLDER</text>

<g class="c">
<path d="M1120,1175 H1268 V1532 H1120 Z"/>
<rect x="1162" y="1300" width="63" height="132"/>
<path d="M1141,1175 V1217 M1120,1196 H1162 M1120,1217 H1162 M1120,1238 H1162 M1141,1238 V1280 M1120,1259 H1162 M1120,1280 H1162 M1162,1175 V1280 M1120,1301 H1141 M1120,1322 H1141 M1120,1343 H1141 M1141,1280 V1343 M1120,1364 H1141 M1141,1364 V1427 M1120,1385 H1141 M1120,1406 H1141 M1120,1427 H1162 M1141,1427 V1532 M1162,1427 V1532 M1120,1448 H1162 M1120,1469 H1162 M1120,1490 H1162 M1120,1511 H1162"/>
<path d="M1162,1206 H1205 M1162,1237 H1205 M1162,1268 H1205 M1205,1175 V1280 M1162,1437 H1205 M1162,1469 H1205 M1162,1500 H1205 M1205,1427 V1532"/>
<path d="M1226,1175 V1280 M1247,1175 V1532 M1205,1196 H1268 M1205,1217 H1268 M1205,1238 H1268 M1205,1259 H1268 M1205,1280 H1268 M1247,1301 H1268 M1247,1322 H1268 M1247,1343 H1268 M1247,1364 H1268 M1247,1385 H1268 M1247,1406 H1268 M1205,1427 H1268 M1226,1427 V1532 M1205,1448 H1268 M1205,1469 H1268 M1205,1490 H1268 M1205,1511 H1268"/>
<circle cx="1193" cy="1353" r="15"/>
</g>
<g class="s" text-anchor="middle">
<text x="1130" y="1190">A1</text><text x="1151" y="1190">A2</text><text x="1130" y="1211">B1</text><text x="1151" y="1211">B2</text><text x="1151" y="1232">C2</text>
<text x="1130" y="1253">D1</text><text x="1151" y="1253">D2</text><text x="1130" y="1274">E1</text><text x="1151" y="1274">E2</text>
<text x="1130" y="1295">F1</text><text x="1130" y="1316">G1</text><text x="1130" y="1337">H1</text>
<text x="1130" y="1379">I1</text><text x="1130" y="1400">J1</text><text x="1130" y="1421">K1</text>
<text x="1130" y="1442">L1</text><text x="1151" y="1442">L2</text><text x="1130" y="1463">M1</text><text x="1151" y="1463">M2</text><text x="1151" y="1484">N2</text>
<text x="1130" y="1505">O1</text><text x="1151" y="1505">O2</text><text x="1130" y="1526">P1</text><text x="1151" y="1526">P2</text>
<text x="1183" y="1196">A3</text><text x="1183" y="1227">B3</text><text x="1183" y="1258">C3</text>
<text x="1183" y="1458">N3</text><text x="1183" y="1490">O3</text><text x="1183" y="1521">P3</text>
<text x="1215" y="1190">A4</text><text x="1236" y="1190">A5</text><text x="1257" y="1190">A6</text>
<text x="1215" y="1211">B4</text><text x="1236" y="1211">B5</text><text x="1257" y="1211">B6</text>
<text x="1215" y="1232">C4</text><text x="1236" y="1232">C5</text><text x="1257" y="1232">C6</text>
<text x="1215" y="1253">D4</text><text x="1236" y="1253">D5</text><text x="1257" y="1253">D6</text>
<text x="1215" y="1274">E4</text><text x="1236" y="1274">E5</text><text x="1257" y="1274">E6</text>
<text x="1257" y="1295">F6</text><text x="1257" y="1316">G6</text><text x="1257" y="1337">H6</text>
<text x="1257" y="1379">I6</text><text x="1257" y="1400">J6</text><text x="1257" y="1421">K6</text>
<text x="1215" y="1442">L4</text><text x="1236" y="1442">L5</text><text x="1257" y="1442">L6</text>
<text x="1215" y="1463">M4</text><text x="1236" y="1463">M5</text><text x="1257" y="1463">M6</text>
<text x="1215" y="1484">N4</text><text x="1236" y="1484">N5</text><text x="1257" y="1484">N6</text>
<text x="1215" y="1505">O4</text><text x="1236" y="1505">O5</text><text x="1257" y="1505">O6</text>
<text x="1215" y="1526">P4</text><text x="1236" y="1526">P5</text><text x="1257" y="1526">P6</text>
</g>
<text x="1348" y="1537" style="font-size:18px;font-weight:normal" text-anchor="middle">AC-00864</text>
</svg>
</body></html>
